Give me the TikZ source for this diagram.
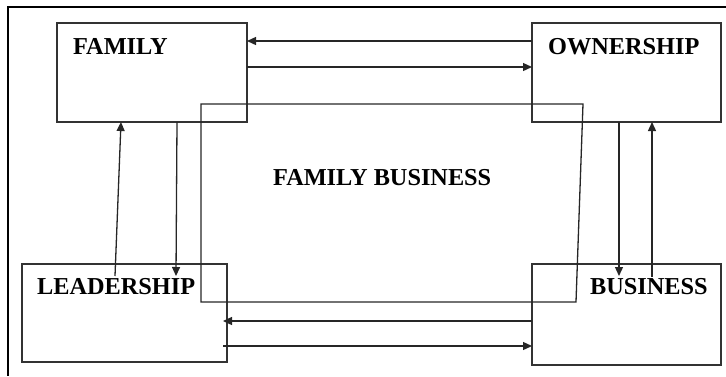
\documentclass[tikz,border=0pt]{standalone}
\usepackage{fontspec}
\setmainfont{Liberation Serif}
\usetikzlibrary{arrows.meta,positioning}

\begin{document}
\begin{tikzpicture}[x=1pt,y=-1pt,>={Triangle[length=9pt,width=8pt]}]
  \tikzstyle{box}=[draw=black!80,line width=1.3pt,inner sep=0pt,outer sep=0pt]
  \tikzstyle{lbl}=[font=\fontsize{24.3}{28}\selectfont\bfseries,inner sep=0pt,anchor=base west]
  \tikzstyle{link}=[draw=black!85,line width=1.3pt]
  \useasboundingbox (0,0) rectangle (726,376);
  % frame
  \draw[line width=2pt] (726,7) -- (8,7) -- (8,376);
  % the four boxes
  \node[box,minimum width=190pt,minimum height=99pt] (fam) at (152,72.5) {};
  \node[box,minimum width=189pt,minimum height=99pt] (own) at (626.5,72.5) {};
  \node[box,minimum width=205pt,minimum height=98pt] (lead) at (124.5,313) {};
  \node[box,minimum width=189pt,minimum height=101pt] (bus) at (626.5,314.5) {};
  \node[lbl] at ([shift={(16,31)}]fam.north west) {FAMILY};
  \node[lbl] at ([shift={(16,31)}]own.north west) {OWNERSHIP};
  \node[lbl] at ([shift={(15,30)}]lead.north west) {LEADERSHIP};
  \node[lbl] at ([shift={(58,30)}]bus.north west) {BUSINESS};
  % family business in the middle
  \draw[link] (201,104) -- (583,104) -- (576,302) -- (201,302) -- cycle;
  \node[lbl] (fb) at (273,185) {FAMILY BUSINESS};
  % arrows
  \draw[link,->] ([shift={(0,-31.5)}]own.west) -- ([shift={(0,-31.5)}]fam.east);
  \draw[link,->] ([shift={(0,-5.5)}]fam.east) -- ([shift={(0,-5.5)}]own.west);
  \draw[link,->] ([shift={(-9.5,12)}]lead.north) -- ([shift={(-31,0)}]fam.south);
  \draw[link,->] ([shift={(25,0)}]fam.south) -- ([shift={(51.5,12)}]lead.north);
  \draw[link,->] ([shift={(-7.5,0)}]own.south) -- ([shift={(-7.5,12)}]bus.north);
  \draw[link,->] ([shift={(25.5,13)}]bus.north) -- ([shift={(25.5,0)}]own.south);
  \draw[link,->] ([shift={(0,6.5)}]bus.west) -- ([shift={(-4,8)}]lead.east);
  \draw[link,->] ([shift={(-4,33)}]lead.east) -- ([shift={(0,31.5)}]bus.west);
\end{tikzpicture}
\end{document}
